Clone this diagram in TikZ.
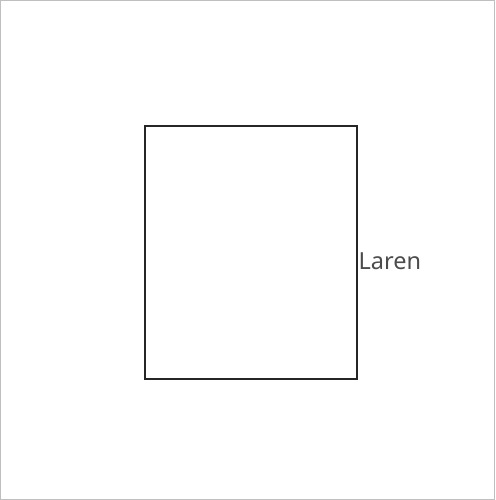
\documentclass[tikz,border=0pt]{standalone}
\usepackage{fontspec}
\setmainfont{Noto Sans}
\usepackage{tikz}
\usetikzlibrary{positioning}
\tikzset{
  region/.style={draw=black!85, line width=1.6pt, minimum width=212pt, minimum height=253pt, inner sep=0pt},
  regionlabel/.style={text=black!70, font=\fontsize{23.5}{28}\selectfont, inner sep=0pt}
}

\begin{document}
\begin{tikzpicture}[x=1pt,y=-1pt]
  		\useasboundingbox (0,0) rectangle (495,500);
  		\fill[white] (0,0) rectangle (495,500);
  		\draw[black!25, line width=1pt] (0.5,0.5) rectangle (494.5,499.5);
  		\node[region] (laren) at (251,252.5) {};
  		\node[regionlabel, right=0.5pt of laren, yshift=-9pt] (larenlabel) {Laren};
  	\end{tikzpicture}
\end{document}
